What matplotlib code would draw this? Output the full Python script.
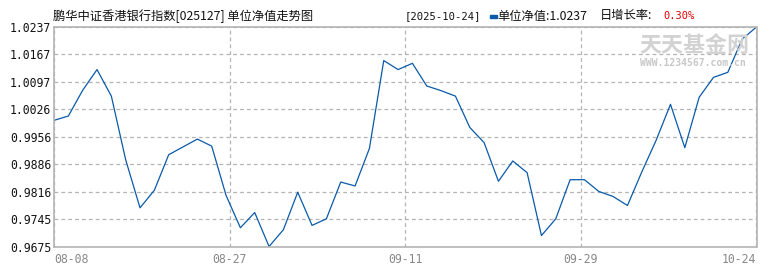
import numpy as np
import matplotlib
matplotlib.use('Agg')
from matplotlib import pyplot as plt
from matplotlib import rcParams
from matplotlib.patches import Rectangle

rcParams['font.family'] = ['Noto Sans CJK SC', 'DejaVu Sans']

#%% data
nav = [0.9998, 1.0009, 1.0075, 1.0128, 1.0060, 0.9897, 0.9774, 0.9819, 0.9910, 0.9930,
       0.9950, 0.9932, 0.9806, 0.9723, 0.9762, 0.9675, 0.9718, 0.9814, 0.9729, 0.9746,
       0.9840, 0.9830, 0.9926, 1.0151, 1.0128, 1.0144, 1.0086, 1.0074, 1.0060, 0.9980,
       0.9941, 0.9842, 0.9894, 0.9864, 0.9703, 0.9746, 0.9846, 0.9846, 0.9816, 0.9803,
       0.9780, 0.9866, 0.9947, 1.0039, 0.9928, 1.0057, 1.0108, 1.0121, 1.0206, 1.0237]
ytick_labels = ['0.9675', '0.9745', '0.9816', '0.9886', '0.9956',
                '1.0026', '1.0097', '1.0167', '1.0237']
xtick_labels = ['08-08', '08-27', '09-11', '09-29', '10-24']

title = '鹏华中证香港银行指数[025127] 单位净值走势图'
last_date = '[2025-10-24]'
last_nav = '单位净值:1.0237'
growth_lbl = '日增长率:'
growth_val = '0.30%'

#%% figure
W, H = 770, 270
fig = plt.figure(figsize=(W/100, H/100), dpi=100)
L, R, T, B = 54, 756.5, 27, 246.5
ax = fig.add_axes([L/W, 1-B/H, (R-L)/W, (B-T)/H])

gcol = '#b4b4b4'
for s in ax.spines.values():
    s.set_color(gcol)
    s.set_linewidth(1.2)

x = np.arange(len(nav))
ax.plot(x, nav, color='#0a5aaa', linewidth=0.9)

ax.set_xlim(0, len(nav)-1)
ymin, ymax = min(nav), max(nav)
ax.set_ylim(ymin, ymax)
ax.set_yticks(np.linspace(ymin, ymax, len(ytick_labels)))
ax.set_yticklabels(ytick_labels, family='DejaVu Sans Mono', fontsize=8.3, color='#111111')
xt = np.linspace(0, len(nav)-1, len(xtick_labels))
ax.set_xticks(xt)
ax.set_xticklabels(xtick_labels, family='DejaVu Sans Mono', fontsize=8.3, color='#888888')
xl = ax.get_xticklabels()
xl[0].set_ha('left')
xl[-1].set_ha('right')
ax.tick_params(axis='both', length=0)
ax.tick_params(axis='y', pad=2)
ax.tick_params(axis='x', pad=5)
ax.grid(True, color=gcol, linestyle=(0, (3, 2.5)), linewidth=0.9)
ax.set_axisbelow(True)

# header texts (pixel coords)
def ftext(px, py, s, **kw):
    fig.text(px/W, 1-py/H, s, va='center', ha='left', **kw)

ftext(53, 16, title, fontsize=8.85, color='#111111')
ftext(405, 16, last_date, fontsize=7.6, color='#111111', family='DejaVu Sans Mono')
fig.patches.append(Rectangle((490/W, 1-17.5/H), 7/W, 3/H, transform=fig.transFigure,
                             color='#0a5aaa', figure=fig))
ftext(497, 16, last_nav, fontsize=8.85, color='#111111')
ftext(600, 16, growth_lbl, fontsize=8.85, color='#111111')
ftext(663, 16, growth_val, fontsize=7.5, color='#e00000', family='DejaVu Sans Mono')

# watermark
ftext(639, 45.5, '天天基金网', fontsize=15.8, color='#d2d2d2', fontweight='bold')
ftext(640, 62.5, 'WWW.1234567.com.cn', fontsize=7, color='#c8c8c8',
      family='DejaVu Sans Mono', fontweight='bold')

fig.savefig('out.png', dpi=100)
